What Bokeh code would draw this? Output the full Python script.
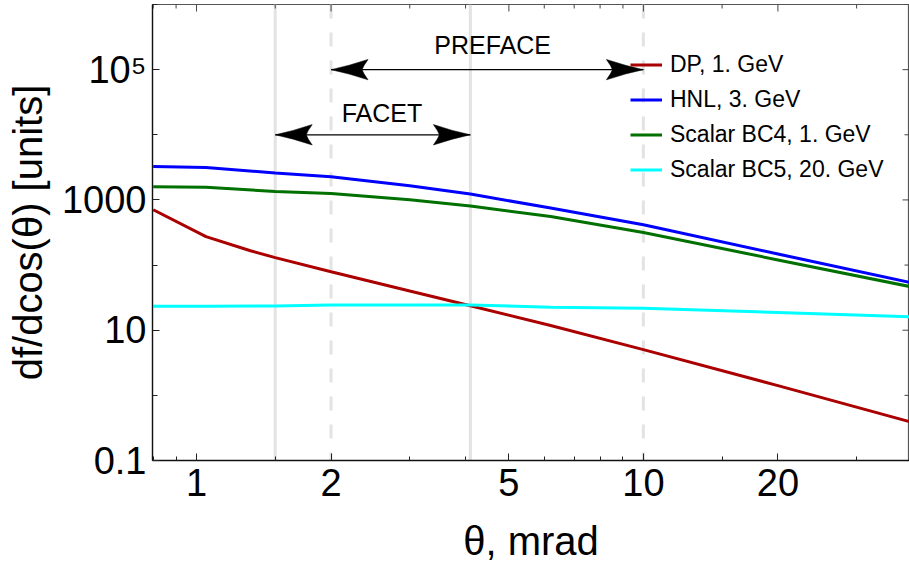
import math

from bokeh.core.properties import value
from bokeh.embed import file_html
from bokeh.models import FixedTicker, Legend, LegendItem, Range1d, Span
from bokeh.plotting import figure
from bokeh.resources import INLINE

# ---------------- data ----------------
theta_dp = [0.8, 1.05, 1.32, 1.5, 2, 3, 4.1, 6.2, 10, 20, 40]
dp_1gev = [707, 273, 166, 130, 79, 40, 23.8, 11.8, 5.04, 1.41, 0.383]

theta_std = [0.8, 1.05, 1.5, 2, 3, 4.1, 6.2, 10, 20, 40]
hnl_3gev = [3270, 3150, 2590, 2270, 1650, 1230, 750, 417, 148, 53]
scalar_bc4_1gev = [1590, 1560, 1350, 1260, 1010, 806, 558, 317, 120, 46]
scalar_bc5_20gev = [23.3, 23.4, 23.6, 24.4, 24.4, 24.4, 22.5, 21.7, 18.7, 16.0]

series_labels = ["DP, 1. GeV", "HNL, 3. GeV", "Scalar BC4, 1. GeV", "Scalar BC5, 20. GeV"]

# experiment acceptance ranges in mrad, and where their arrows sit
facet_range = (1.5, 4.1)
preface_range = (2, 10)
facet_arrow_y = 1e4
preface_arrow_y = 1e5
facet_label_x = 2.6
preface_label_x = 4.6

x_major = [1, 2, 5, 10, 20]
x_major_labels = ["1", "2", "5", "10", "20"]
x_minor = [0.8, 0.9, 1.5, 3, 4, 6, 7, 8, 9, 15, 30]
y_major = [0.1, 10, 1000, 1e5]
y_major_labels = ["0.1", "10", "1000", "10\u2075"]
y_minor = [1, 100, 1e4, 1e6]

# ---------------- layout ----------------
W, H = 909, 567
B_LEFT, B_RIGHT, B_TOP, B_BOTTOM = 152, 0, 4, 107
X0, X1 = 0.797, 39.4
Y0, Y1 = 0.1, 1e6
FONT = "Liberation Sans"

frame_w = W - B_LEFT - B_RIGHT
frame_h = H - B_TOP - B_BOTTOM
px_dec_x = frame_w / math.log10(X1 / X0)
px_dec_y = frame_h / math.log10(Y1 / Y0)


def shift_x(x, px):
    return x * 10 ** (px / px_dec_x)


def shift_y(y, px):
    return y * 10 ** (px / px_dec_y)


p = figure(width=W, height=H, x_axis_type="log", y_axis_type="log",
           x_range=Range1d(X0, X1), y_range=Range1d(Y0, Y1),
           output_backend="svg", toolbar_location=None,
           min_border_left=B_LEFT, min_border_right=B_RIGHT,
           min_border_top=B_TOP, min_border_bottom=B_BOTTOM)
p.background_fill_color = "white"
p.border_fill_color = "white"
p.grid.visible = False
p.outline_line_color = "#555555"
p.outline_line_width = 1.2


def style_axis(ax, ticker, labels, major, minor_len):
    ax.ticker = ticker
    ax.major_tick_in = 7
    ax.major_tick_out = 0
    ax.minor_tick_in = minor_len
    ax.minor_tick_out = 0
    ax.major_tick_line_color = "#222222"
    ax.minor_tick_line_color = "#222222"
    ax.axis_line_color = "#111111"
    ax.axis_line_width = 1.3
    ax.major_label_text_font = FONT
    ax.major_label_text_color = "black"
    ax.major_label_text_font_size = "38px"
    ax.major_label_overrides = {float(v): s for v, s in zip(major, labels)}
    ax.axis_label_text_font = FONT
    ax.axis_label_text_font_style = "normal"
    ax.axis_label_text_font_size = "40px"
    ax.axis_label_text_color = "black"


style_axis(p.xaxis[0], FixedTicker(ticks=x_major, minor_ticks=x_minor), x_major_labels, x_major, 4)
style_axis(p.yaxis[0], FixedTicker(ticks=y_major, minor_ticks=y_minor), y_major_labels, y_major, 5)
p.xaxis[0].axis_label = "\u03b8, mrad"
p.yaxis[0].axis_label = "df/dcos(\u03b8) [units]"
p.xaxis[0].major_label_standoff = 8
p.xaxis[0].axis_label_standoff = 20
p.yaxis[0].major_label_standoff = 6
p.yaxis[0].axis_label_standoff = 9

# tick marks along the top and right edges of the frame
tick_x0, tick_x1, tick_y0, tick_y1 = [], [], [], []
for ticks, length in ((x_major, 7), (x_minor, 4)):
    for t in ticks:
        tick_x0.append(t)
        tick_x1.append(t)
        tick_y0.append(Y1)
        tick_y1.append(shift_y(Y1, -length))
for ticks, length in ((y_major, 7), (y_minor, 5)):
    for t in ticks:
        tick_x0.append(X1)
        tick_x1.append(shift_x(X1, -length))
        tick_y0.append(t)
        tick_y1.append(t)
p.segment(x0=tick_x0, x1=tick_x1, y0=tick_y0, y1=tick_y1, line_color="#444444", line_width=1)

# acceptance boundaries
for loc in facet_range:
    p.add_layout(Span(location=loc, dimension="height", line_color="#e3e3e3",
                      line_width=3, level="underlay"))
for loc in preface_range:
    p.add_layout(Span(location=loc, dimension="height", line_color="#e3e3e3",
                      line_width=3, line_dash="14 14", level="underlay"))

# curves
colors = ["#aa0000", "#0000ff", "#007000", "#00ffff"]
xs = [theta_dp, theta_std, theta_std, theta_std]
ys = [dp_1gev, hnl_3gev, scalar_bc4_1gev, scalar_bc5_20gev]
renderers = []
for x, y, c in zip(xs, ys, colors):
    renderers.append(p.line(x, y, line_color=c, line_width=3))

# double-headed arrows with filled, swept heads (shape given in screen px)
HEAD = [(0, 0), (-18, 4.4), (-37, 10.2), (-33, 4.2), (-31, 0),
        (-33, -4.2), (-37, -10.2), (-18, -4.4)]

head_xs, head_ys = [], []
for (a, b), yy in ((facet_range, facet_arrow_y), (preface_range, preface_arrow_y)):
    p.segment(x0=[a], x1=[b], y0=[yy], y1=[yy], line_color="black", line_width=1.2)
    for tip, d in ((b, 1), (a, -1)):
        head_xs.append([shift_x(tip, d * dx) for dx, _ in HEAD])
        head_ys.append([shift_y(yy, dy) for _, dy in HEAD])
p.patches(head_xs, head_ys, fill_color="black", line_color="black", line_width=0.5)

p.text(x=[facet_label_x, preface_label_x],
       y=[shift_y(facet_arrow_y, 21.5), shift_y(preface_arrow_y, 25)],
       text=["FACET", "PREFACE"],
       text_font=value(FONT), text_font_size="25px", text_color="black",
       text_align="center", text_baseline="alphabetic")

legend = Legend(items=[LegendItem(label=l, renderers=[r]) for l, r in zip(series_labels, renderers)],
                location=(478, 273))
legend.label_text_font = FONT
legend.label_text_font_size = "23px"
legend.label_text_color = "black"
legend.glyph_width = 32
legend.glyph_height = 35
legend.label_height = 35
legend.label_standoff = 8
legend.spacing = 0
legend.padding = 0
legend.margin = 0
legend.border_line_alpha = 0
legend.background_fill_alpha = 0
p.add_layout(legend)

open("out.html", "w").write(file_html(p, INLINE))
